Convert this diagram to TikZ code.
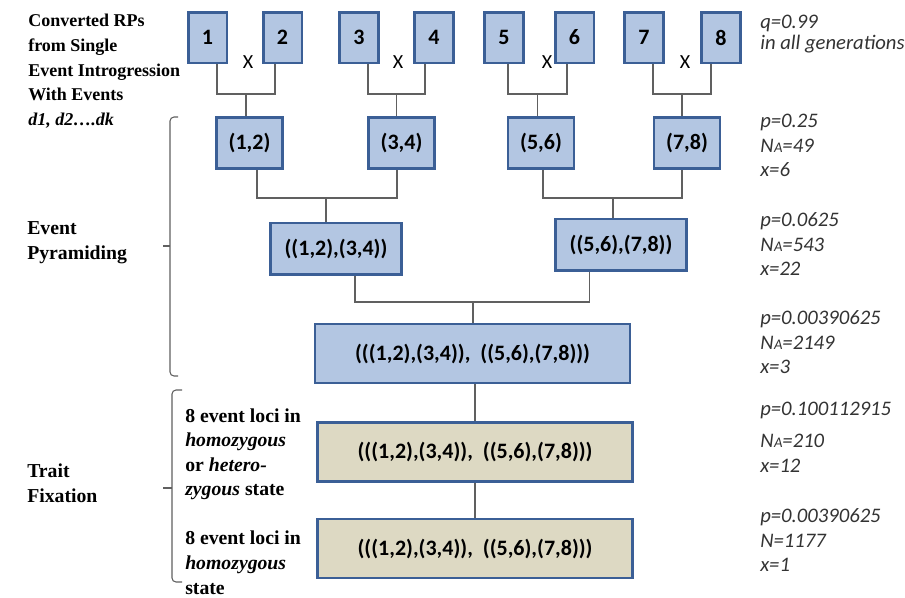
\documentclass[tikz,border=0pt]{standalone}
\usepackage{fontspec}
\setmainfont{Liberation Serif}
\newfontfamily\serifbook{Liberation Serif}
\newfontfamily\calibri{Carlito}
\usetikzlibrary{positioning,calc}

\definecolor{rpblue}{HTML}{B3C6E2}
\definecolor{rpedge}{HTML}{3B5F96}
\definecolor{rptan}{HTML}{DDD9C3}
\definecolor{linkgray}{HTML}{606060}
\definecolor{statgray}{HTML}{333333}

% N with the small A
\newcommand{\nA}{N\kern0.3pt{\fontsize{11}{11}\selectfont A}}

\begin{document}
\begin{tikzpicture}[
    x=0.75pt, y=-0.75pt,
    box/.style={rectangle, draw=rpedge, line width=1.9pt, fill=rpblue, inner sep=0pt,
        font=\calibri\bfseries\fontsize{16.5}{19}\selectfont},
    rp/.style={box, minimum width=28.9pt, minimum height=37.9pt},
    pair/.style={box, minimum width=49.5pt, minimum height=38.6pt},
    quad/.style={box, minimum width=98pt, minimum height=38.6pt},
    full/.style={box, minimum width=236pt, minimum height=44pt},
    fixed/.style={full, fill=rptan},
    cross/.style={inner sep=0pt, font=\calibri\fontsize{15}{18}\selectfont},
    link/.style={draw=linkgray, line width=1.1pt},
    brace/.style={draw=linkgray, line width=0.8pt, rounded corners=3pt},
    stage/.style={anchor=north west, align=left, inner sep=0pt,
        font=\serifbook\bfseries\fontsize{14.8}{18.4}\selectfont},
    stats/.style={anchor=north west, align=left, inner sep=0pt, text=statgray,
        font=\calibri\itshape\fontsize{15.5}{18.4}\selectfont}
]
  \useasboundingbox (0,0) rectangle (905,597);

  % Row 1 - converted RPs
  \node[rp] (b1) at (207.5,37.5) {1};
  \node[rp] (b2) at (282.5,37.5) {2};
  \node[rp] (b3) at (359,37.5) {3};
  \node[rp] (b4) at (434,37.5) {4};
  \node[rp] (b5) at (504,37.5) {5};
  \node[rp] (b6) at (574.5,37.5) {6};
  \node[rp] (b7) at (644,37.5) {7};
  \node[rp] (b8) at (721,37.5) {8};

  \node[cross] (x12) at (248,62) {X};
  \node[cross] (x34) at (398,62) {X};
  \node[cross] (x56) at (547,62) {X};
  \node[cross] (x78) at (685,62) {X};

  % Row 2 - pairs
  \node[pair] (p12) at (249.5,143) {(1,2)};
  \node[pair] (p34) at (401.5,143) {(3,4)};
  \node[pair] (p56) at (541,143) {(5,6)};
  \node[pair] (p78) at (687,143) {(7,8)};

  % Row 3 - quadruples
  \node[quad] (q1234) at (336,248.5) {((1,2),(3,4))};
  \node[quad] (q5678) at (621,244.5) {((5,6),(7,8))};

  % Row 4 - all eight events
  \node[full] (all) at (472.5,353.5) {(((1,2),(3,4)),\ \ ((5,6),(7,8)))};
  \node[fixed] (mixed) at (475,452) {(((1,2),(3,4)),\ \ ((5,6),(7,8)))};
  \node[fixed] (homo) at (475,548.5) {(((1,2),(3,4)),\ \ ((5,6),(7,8)))};

  % Junctions
  \coordinate (j12) at (246,94);
  \coordinate (j34) at (396.5,94);
  \coordinate (j56) at (537.5,94);
  \coordinate (j78) at (682,94);
  \coordinate (k14) at (326,198);
  \coordinate (k58) at (613,198);
  \coordinate (m18) at (473,302);

  % Connectors
  \draw[link] ($(b1.south)+(9.5,0)$) |- (j12) -| ($(b2.south)+(-7.5,0)$);
  \draw[link] ($(b3.south)+(9,0)$) |- (j34) -| ($(b4.south)+(-9,0)$);
  \draw[link] ($(b5.south)+(4,0)$) |- (j56) -| ($(b6.south)+(-7.5,0)$);
  \draw[link] ($(b7.south)+(9,0)$) |- (j78) -| ($(b8.south)+(-10,0)$);
  \draw[link] (j12) -- (j12 |- p12.north);
  \draw[link] (j34) -- (j34 |- p34.north);
  \draw[link] (j56) -- (j56 |- p56.north);
  \draw[link] (j78) -- (j78 |- p78.north);

  \draw[link] ($(p12.south)+(7.5,0)$) |- (k14) -| ($(p34.south)+(-4.5,0)$);
  \draw[link] ($(p56.south)+(2,0)$) |- (k58) -| ($(p78.south)+(-5,0)$);
  \draw[link] (k14) -- (k14 |- q1234.north);
  \draw[link] (k58) -- (k58 |- q5678.north);

  \draw[link] ($(q1234.south)+(19,0)$) |- (m18) -| ($(q5678.south)+(-31.5,0)$);
  \draw[link] (m18) -- (m18 |- all.north);
  \draw[link] (mixed.north |- all.south) -- (mixed.north);
  \draw[link] (mixed) -- (homo);

  % Braces
  \draw[brace] (178,117) -| (170,376) -- (178,376);
  \draw[brace] (163,246) -- (170,246);
  \draw[brace] (182,390) -| (172,582) -- (182,582);
  \draw[brace] (163,488) -- (172,488);

  % Left labels
  \node[stage, font=\serifbook\bfseries\fontsize{13.5}{18.6}\selectfont] (source) at (28,13.7)
    {Converted RPs\\from Single\\Event Introgression\\With Events\\\textit{d1, d2….dk}};
  \node[stage] (pyramid) at (27,221.5) {Event\\Pyramiding};
  \node[stage] (fixation) at (27,463.5) {Trait\\Fixation};
  \node[stage] (mixedtxt) at (185,408.3)
    {8 event loci in\\\textit{homozygous}\\or \textit{hetero-}\\\textit{zygous} state};
  \node[stage] (homotxt) at (185,531)
    {8 event loci in\\\textit{homozygous}\\state};

  % Right labels
  \node[stats] (sq) at (760,15) {q=0.99\\[-3pt]in all generations};
  \node[stats] (s1) at (760,114) {p=0.25\\\nA=49\\x=6};
  \node[stats] (s2) at (760,212.5) {p=0.0625\\\nA=543\\x=22};
  \node[stats] (s3) at (760,310.5) {p=0.00390625\\\nA=2149\\x=3};
  \node[stats] (s4) at (760,401.5) {p=0.100112915\\[6pt]\nA=210\\x=12};
  \node[stats] (s5) at (760,508.5) {p=0.00390625\\N=1177\\x=1};
\end{tikzpicture}
\end{document}
